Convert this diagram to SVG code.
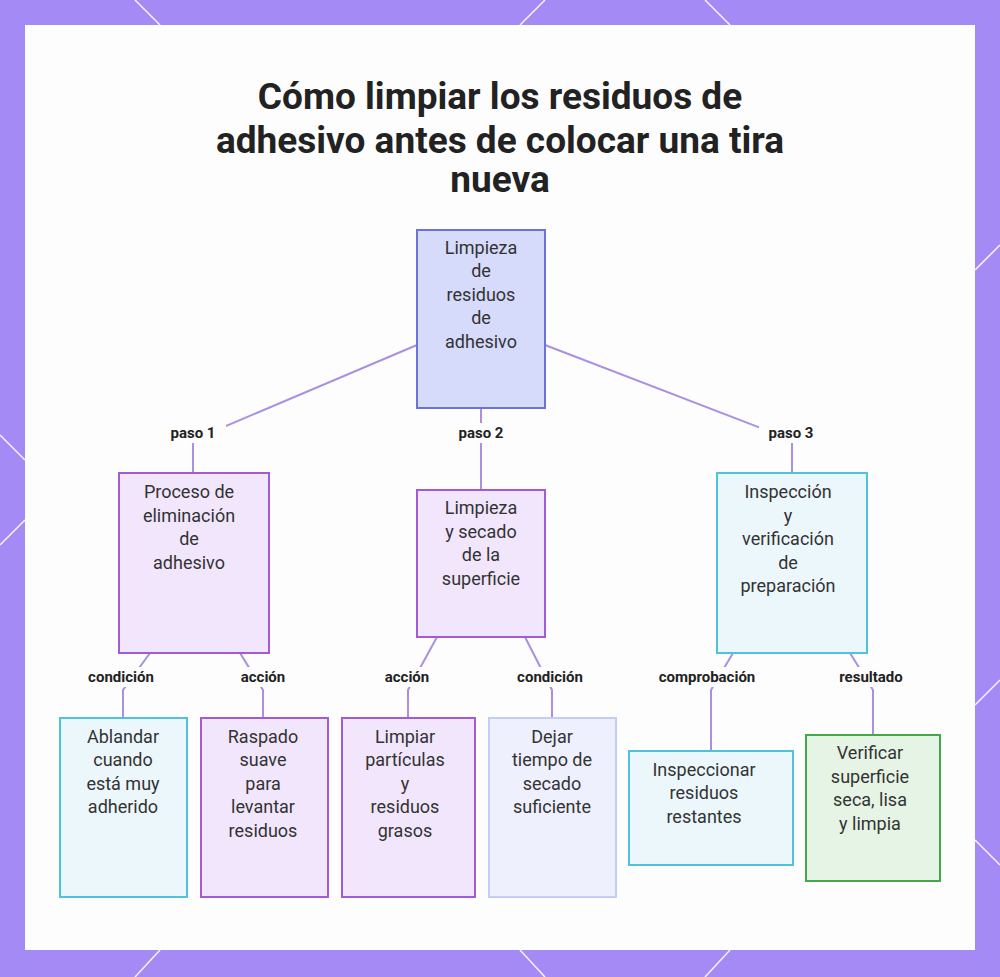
<svg xmlns="http://www.w3.org/2000/svg" width="1000" height="977" viewBox="0 0 1000 977">
<style>
.t{font-family:Roboto,"Liberation Sans",sans-serif;font-size:18px;fill:#333;text-anchor:middle}
.l{font-family:Roboto,"Liberation Sans",sans-serif;font-size:15px;font-weight:bold;fill:#222;text-anchor:middle}
.c{fill:none;stroke:#ab8fe0;stroke-width:2}
.p{fill:#f1e6fc;stroke:#a35ad6;stroke-width:2}
.cy{fill:#ecf7fc;stroke:#4fc3dc;stroke-width:2}
</style>
<rect width="1000" height="977" fill="#a48af5"/>
<g stroke="#fff" stroke-width="1.5" fill="none" opacity="0.9">
<path d="M135 0 L160 25 M545 0 L520 25 M705 0 L730 25 M0 435 L25 460 M0 545 L25 520 M975 270 L1000 245 M975 705 L1000 680 M975 840 L1000 865 M135 977 L160 950 M545 977 L520 950 M705 977 L730 950"/>
</g>
<rect x="25" y="25" width="950" height="925" fill="#fdfdfd"/>
<text font-family="Roboto,'Liberation Sans',sans-serif" font-size="37" font-weight="bold" fill="#222" text-anchor="middle"><tspan x="500" y="109">Cómo limpiar los residuos de</tspan><tspan x="500" y="153">adhesivo antes de colocar una tira</tspan><tspan x="500" y="192">nueva</tspan></text>
<g id="connectors">
<path class="c" d="M417 345 L193 440 L193 473"/>
<path class="c" d="M481 408 L481 490"/>
<path class="c" d="M545 345 L792 440 L792 473"/>
<path class="c" d="M150 653 L123 690 L123 718"/>
<path class="c" d="M240 653 L263 690 L263 718"/>
<path class="c" d="M437 637 L408 690 L408 718"/>
<path class="c" d="M525 637 L552 690 L552 718"/>
<path class="c" d="M733 653 L711 690 L711 751"/>
<path class="c" d="M850 653 L873 690 L873 735"/>
</g>
<g>
<rect x="160" y="423" width="66" height="20" fill="#fdfdfd"/><text class="l" x="193" y="438">paso 1</text>
<rect x="448" y="423" width="66" height="20" fill="#fdfdfd"/><text class="l" x="481" y="438">paso 2</text>
<rect x="759" y="423" width="66" height="20" fill="#fdfdfd"/><text class="l" x="791" y="438">paso 3</text>
<rect x="80" y="667" width="82" height="20" fill="#fdfdfd"/><text class="l" x="121" y="682">condición</text>
<rect x="233" y="667" width="60" height="20" fill="#fdfdfd"/><text class="l" x="263" y="682">acción</text>
<rect x="377" y="667" width="60" height="20" fill="#fdfdfd"/><text class="l" x="407" y="682">acción</text>
<rect x="509" y="667" width="82" height="20" fill="#fdfdfd"/><text class="l" x="550" y="682">condición</text>
<rect x="650" y="667" width="115" height="20" fill="#fdfdfd"/><text class="l" x="707" y="682">comprobación</text>
<rect x="830" y="667" width="82" height="20" fill="#fdfdfd"/><text class="l" x="871" y="682">resultado</text>
</g>
<g id="root"><rect x="417" y="230" width="128" height="178" fill="#d6dafb" stroke="#6b73d6" stroke-width="2"/>
<text class="t"><tspan x="481" y="254">Limpieza</tspan><tspan x="481" y="277">de</tspan><tspan x="481" y="301">residuos</tspan><tspan x="481" y="324">de</tspan><tspan x="481" y="348">adhesivo</tspan></text></g>
<g id="n1"><rect class="p" x="119" y="473" width="150" height="180"/>
<text class="t"><tspan x="189" y="498">Proceso de</tspan><tspan x="189" y="522">eliminación</tspan><tspan x="189" y="545">de</tspan><tspan x="189" y="569">adhesivo</tspan></text></g>
<g id="n2"><rect class="p" x="417" y="490" width="128" height="147"/>
<text class="t"><tspan x="481" y="514">Limpieza</tspan><tspan x="481" y="538">y secado</tspan><tspan x="481" y="561">de la</tspan><tspan x="481" y="585">superficie</tspan></text></g>
<g id="n3"><rect class="cy" x="717" y="473" width="150" height="180"/>
<text class="t"><tspan x="788" y="498">Inspección</tspan><tspan x="788" y="522">y</tspan><tspan x="788" y="545">verificación</tspan><tspan x="788" y="569">de</tspan><tspan x="788" y="592">preparación</tspan></text></g>
<g id="l1"><rect class="cy" x="60" y="718" width="127" height="179"/>
<text class="t"><tspan x="123" y="743">Ablandar</tspan><tspan x="123" y="766">cuando</tspan><tspan x="123" y="790">está muy</tspan><tspan x="123" y="813">adherido</tspan></text></g>
<g id="l2"><rect class="p" x="201" y="718" width="127" height="179"/>
<text class="t"><tspan x="263" y="743">Raspado</tspan><tspan x="263" y="766">suave</tspan><tspan x="263" y="790">para</tspan><tspan x="263" y="813">levantar</tspan><tspan x="263" y="837">residuos</tspan></text></g>
<g id="l3"><rect class="p" x="342" y="718" width="133" height="179"/>
<text class="t"><tspan x="405" y="743">Limpiar</tspan><tspan x="405" y="766">partículas</tspan><tspan x="405" y="790">y</tspan><tspan x="405" y="813">residuos</tspan><tspan x="405" y="837">grasos</tspan></text></g>
<g id="l4"><rect x="489" y="718" width="127" height="179" fill="#eef0fe" stroke="#c3cdf7" stroke-width="2"/>
<text class="t"><tspan x="552" y="743">Dejar</tspan><tspan x="552" y="766">tiempo de</tspan><tspan x="552" y="790">secado</tspan><tspan x="552" y="813">suficiente</tspan></text></g>
<g id="l5"><rect class="cy" x="629" y="751" width="164" height="114"/>
<text class="t"><tspan x="704" y="776">Inspeccionar</tspan><tspan x="704" y="799">residuos</tspan><tspan x="704" y="823">restantes</tspan></text></g>
<g id="l6"><rect x="806" y="735" width="134" height="146" fill="#e6f4e6" stroke="#43a84a" stroke-width="2"/>
<text class="t"><tspan x="870" y="759">Verificar</tspan><tspan x="870" y="783">superficie</tspan><tspan x="870" y="806">seca, lisa</tspan><tspan x="870" y="830">y limpia</tspan></text></g>
</svg>
